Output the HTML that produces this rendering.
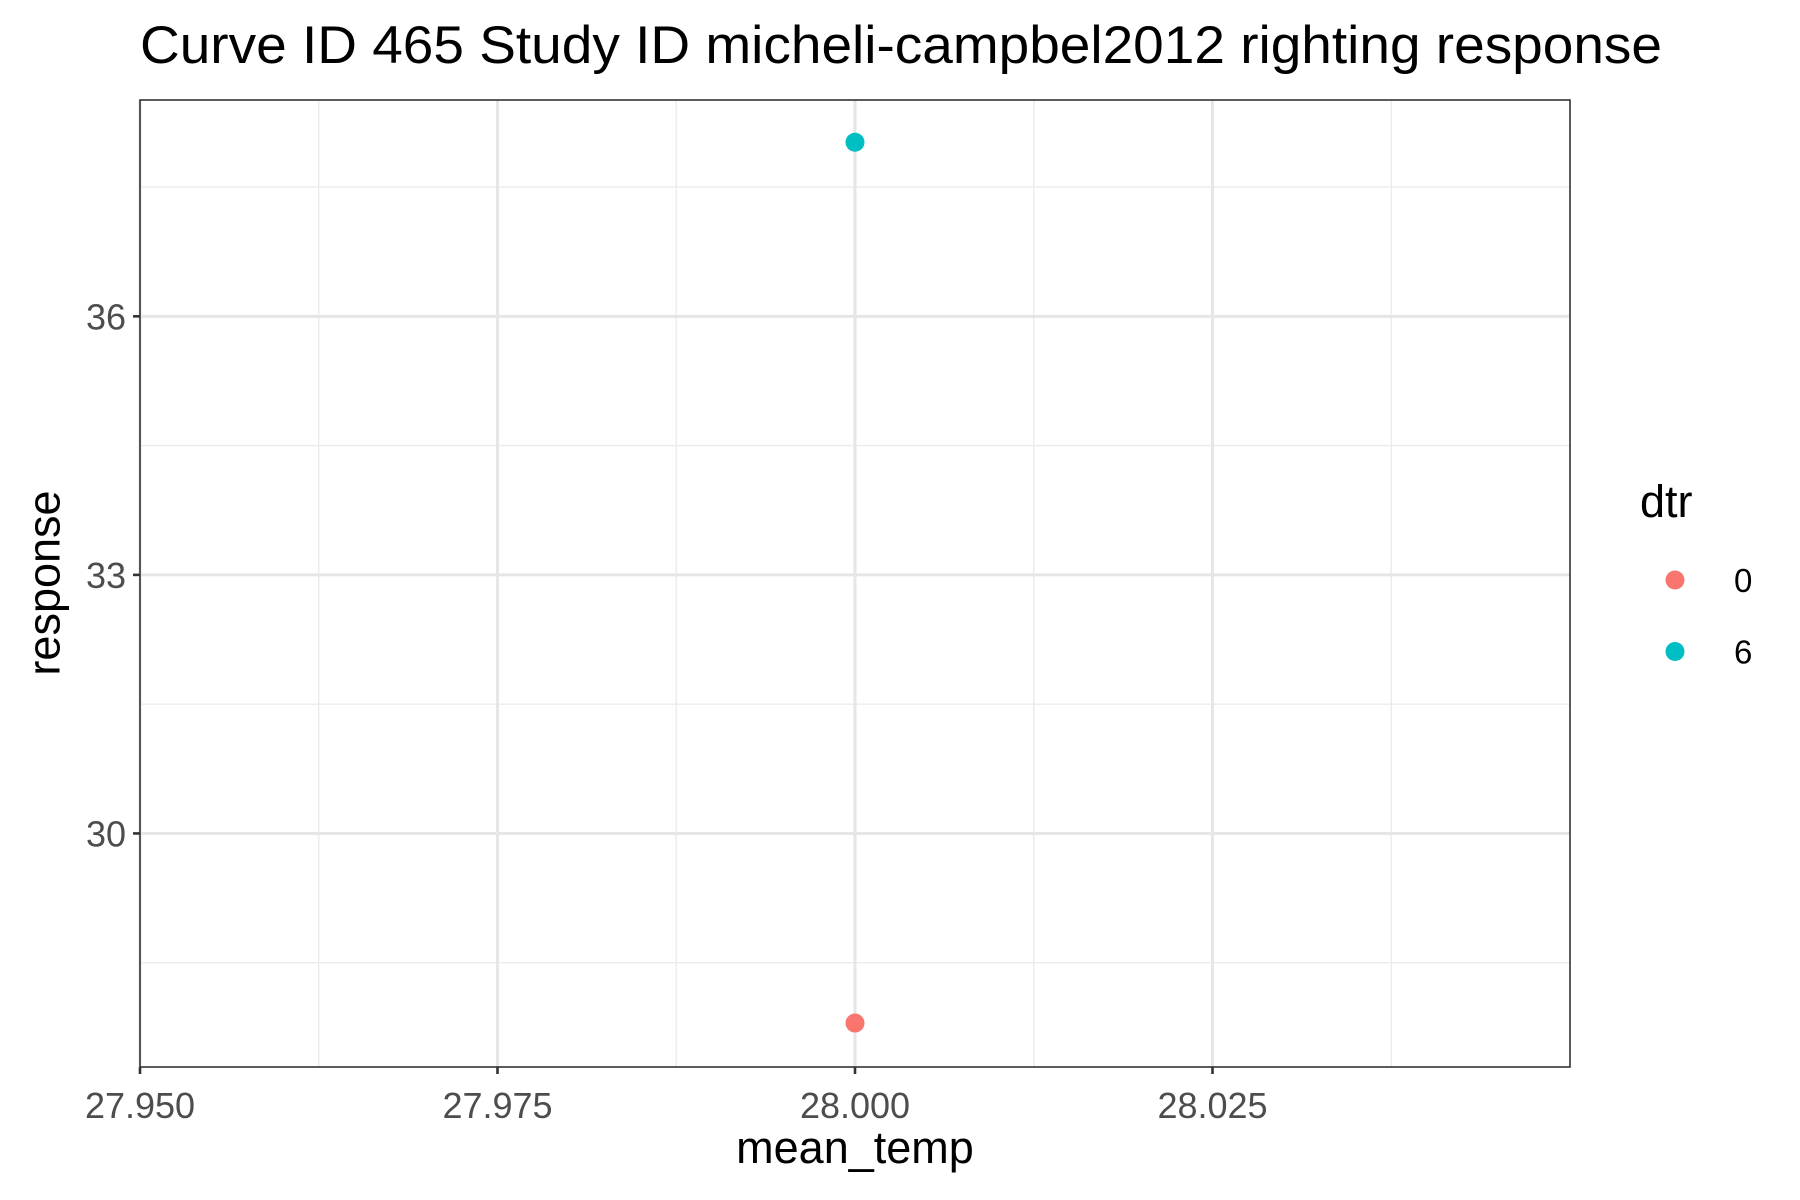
<!DOCTYPE html>
<html><head><meta charset="utf-8"><style>
html,body{margin:0;padding:0;background:#fff;}
svg{display:block;font-family:"Liberation Sans",Arial,sans-serif;}
</style></head><body>
<svg id="chart" width="1800" height="1200" viewBox="0 0 1800 1200" xmlns="http://www.w3.org/2000/svg">
<text x="140" y="63" font-size="53" fill="#000" textLength="1522" lengthAdjust="spacingAndGlyphs">Curve ID 465 Study ID micheli-campbel2012 righting response</text>
<rect x="140" y="100" width="1430" height="967" fill="#fff"/>
<g id="grid"></g>
<g id="points"></g>
<rect x="140" y="100" width="1430" height="967" fill="none" stroke="#333" stroke-width="1.6"/>
<g id="axes"></g>
<text x="855" y="1163" font-size="45" text-anchor="middle" fill="#000">mean_temp</text>
<text transform="translate(44,583) rotate(-90)" font-size="45" text-anchor="middle" dominant-baseline="central" fill="#000">response</text>
<g>
<text x="1640" y="517" font-size="45" fill="#000">dtr</text>
<g id="legend-entries"></g>
</g>
</svg>
<script>
const xTicks=[27.95,27.975,28.0,28.025];
const xTickLabels=["27.950","27.975","28.000","28.025"];
const xMinor=[27.9625,27.9875,28.0125,28.0375];
const yTicks=[30,33,36];
const yTickLabels=["30","33","36"];
const yMinor=[28.5,31.5,34.5,37.5];
const categories=["0","6"];
const colors=["#F8766D","#00BFC4"];
const xValues=[28.0,28.0];
const yValues=[27.8,38.02];

const L=140,R=1570,T=100,B=1067;
const xMin=27.95,xMax=28.05,yMin=27.29,yMax=38.51;
function sx(v){return L+(v-xMin)/(xMax-xMin)*(R-L);}
function sy(v){return B-(v-yMin)/(yMax-yMin)*(B-T);}
const NS="http://www.w3.org/2000/svg";
function mk(tag,attrs,parent){const e=document.createElementNS(NS,tag);for(const k in attrs)e.setAttribute(k,attrs[k]);parent.appendChild(e);return e;}
const grid=document.getElementById('grid'),axes=document.getElementById('axes'),pts=document.getElementById('points'),leg=document.getElementById('legend-entries');
xMinor.forEach(v=>{const l=mk('line',{x1:sx(v),x2:sx(v),y1:T,y2:B,stroke:'#ebebeb','stroke-width':1.4},grid);

});
yMinor.forEach(v=>{const l=mk('line',{x1:L,x2:R,y1:sy(v),y2:sy(v),stroke:'#ebebeb','stroke-width':1.4},grid);

});
xTicks.forEach((v,i)=>{const l=mk('line',{x1:sx(v),x2:sx(v),y1:T,y2:B,stroke:'#e6e6e6','stroke-width':3},grid);


const t=mk('line',{x1:sx(v),x2:sx(v),y1:B,y2:B+7,stroke:'#333','stroke-width':2.6},axes);


const tx=mk('text',{x:sx(v),y:1118,'font-size':36,'text-anchor':'middle',fill:'#4d4d4d'},axes);tx.textContent=xTickLabels[i];

});
yTicks.forEach((v,i)=>{const l=mk('line',{x1:L,x2:R,y1:sy(v),y2:sy(v),stroke:'#e6e6e6','stroke-width':3},grid);


const t=mk('line',{x1:L-7,x2:L,y1:sy(v),y2:sy(v),stroke:'#333','stroke-width':2.6},axes);


const tx=mk('text',{x:L-14,y:sy(v)+13,'font-size':36,'text-anchor':'end',fill:'#4d4d4d'},axes);tx.textContent=yTickLabels[i];

});
xValues.forEach((v,i)=>{const c=mk('circle',{cx:sx(v),cy:sy(yValues[i]),r:9.5,fill:colors[i]},pts);

});
categories.forEach((c,i)=>{const y=580+i*71.5;
const d=mk('circle',{cx:1675,cy:y,r:9.5,fill:colors[i]},leg);


const t=mk('text',{x:1734,y:y+12,'font-size':33,fill:'#000'},leg);t.textContent=c;

});
</script>
</body></html>
